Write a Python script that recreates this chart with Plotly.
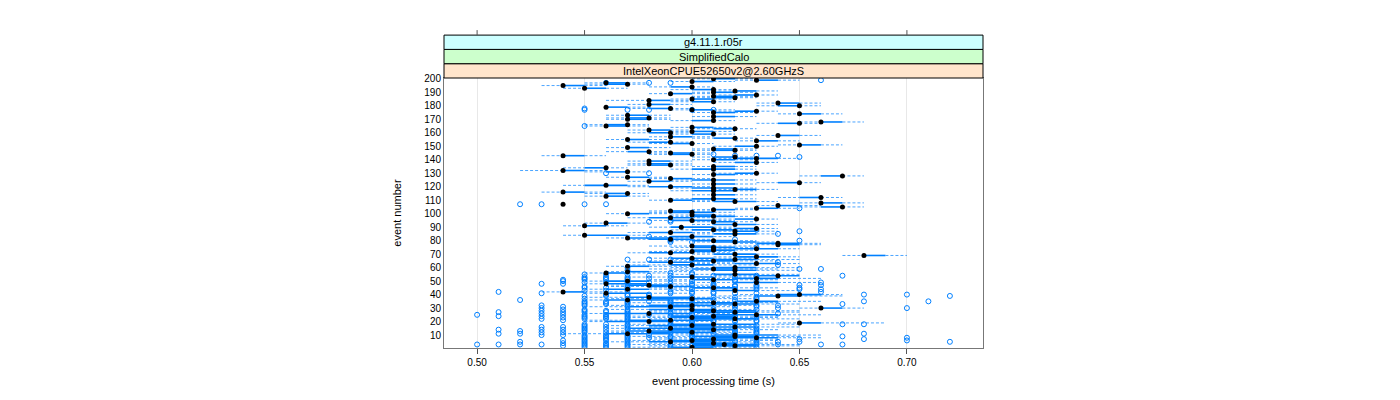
import plotly.graph_objects as go

events = list(range(1, 201))

med = [0.60, 0.62, 0.615, 0.61, 0.59, 0.60, 0.61, 0.63, 0.62, 0.62,
       0.57, 0.60, 0.58, 0.61, 0.59, 0.62, 0.60, 0.61, 0.65, 0.58,
       0.59, 0.62, 0.60, 0.61, 0.63, 0.58, 0.62, 0.61, 0.60, 0.66,
       0.59, 0.60, 0.62, 0.61, 0.63, 0.57, 0.60, 0.58, 0.64, 0.65,
       0.56, 0.54, 0.62, 0.57, 0.61, 0.59, 0.58, 0.56, 0.63, 0.57,
       0.61, 0.63, 0.60, 0.64, 0.62, 0.56, 0.57, 0.62, 0.61, 0.62,
       0.57, 0.60, 0.63, 0.59, 0.61, 0.62, 0.60, 0.63, 0.68, 0.62,
       0.59, 0.60, 0.61, 0.63, 0.61, 0.60, 0.64, 0.64, 0.62, 0.61,
       0.59, 0.57, 0.60, 0.55, 0.62, 0.59, 0.62, 0.61, 0.63, 0.595,
       0.55, 0.62, 0.56, 0.61, 0.60, 0.63, 0.59, 0.61, 0.60, 0.57,
       0.60, 0.59, 0.61, 0.63, 0.67, 0.64, 0.54, 0.66, 0.62, 0.59,
       0.61, 0.66, 0.56, 0.61, 0.57, 0.54, 0.61, 0.62, 0.61, 0.59,
       0.56, 0.61, 0.65, 0.58, 0.61, 0.59, 0.57, 0.67, 0.61, 0.63,
       0.57, 0.54, 0.61, 0.56, 0.61, 0.59, 0.58, 0.63, 0.58, 0.61,
       0.63, 0.62, 0.54, 0.60, 0.59, 0.58, 0.62, 0.61, 0.57, 0.63,
       0.65, 0.60, 0.59, 0.63, 0.57, 0.62, 0.59, 0.64, 0.61, 0.59,
       0.60, 0.58, 0.62, 0.60, 0.56, 0.57, 0.65, 0.66, 0.61, 0.57,
       0.58, 0.61, 0.57, 0.65, 0.61, 0.63, 0.60, 0.59, 0.56, 0.65,
       0.58, 0.64, 0.61, 0.58, 0.60, 0.62, 0.61, 0.63, 0.59, 0.61,
       0.62, 0.61, 0.55, 0.60, 0.54, 0.57, 0.56, 0.60, 0.63, 0.61]

q1 = [0.59, 0.60, 0.60, 0.60, 0.58, 0.59, 0.60, 0.61, 0.60, 0.61,
      0.56, 0.58, 0.57, 0.59, 0.57, 0.60, 0.58, 0.59, 0.65, 0.56,
      0.57, 0.60, 0.59, 0.59, 0.61, 0.56, 0.60, 0.60, 0.58, 0.66,
      0.57, 0.58, 0.61, 0.59, 0.62, 0.56, 0.58, 0.57, 0.63, 0.64,
      0.56, 0.54, 0.61, 0.56, 0.60, 0.58, 0.57, 0.56, 0.62, 0.56,
      0.60, 0.62, 0.59, 0.63, 0.61, 0.56, 0.57, 0.61, 0.60, 0.61,
      0.57, 0.59, 0.62, 0.58, 0.60, 0.61, 0.59, 0.62, 0.68, 0.61,
      0.58, 0.60, 0.60, 0.62, 0.60, 0.60, 0.64, 0.63, 0.61, 0.60,
      0.58, 0.57, 0.59, 0.55, 0.61, 0.58, 0.62, 0.60, 0.62, 0.59,
      0.55, 0.61, 0.56, 0.61, 0.59, 0.62, 0.58, 0.60, 0.60, 0.57,
      0.59, 0.59, 0.61, 0.63, 0.66, 0.64, 0.54, 0.66, 0.61, 0.59,
      0.60, 0.65, 0.56, 0.61, 0.56, 0.54, 0.60, 0.62, 0.60, 0.58,
      0.55, 0.61, 0.64, 0.58, 0.60, 0.59, 0.57, 0.66, 0.61, 0.62,
      0.56, 0.54, 0.60, 0.55, 0.61, 0.58, 0.58, 0.62, 0.58, 0.61,
      0.62, 0.61, 0.54, 0.59, 0.59, 0.57, 0.61, 0.61, 0.57, 0.62,
      0.65, 0.59, 0.58, 0.63, 0.57, 0.61, 0.59, 0.64, 0.60, 0.58,
      0.60, 0.58, 0.61, 0.60, 0.56, 0.56, 0.64, 0.66, 0.60, 0.57,
      0.57, 0.61, 0.57, 0.65, 0.61, 0.62, 0.60, 0.58, 0.56, 0.64,
      0.58, 0.64, 0.60, 0.58, 0.60, 0.61, 0.61, 0.62, 0.59, 0.61,
      0.62, 0.60, 0.55, 0.59, 0.54, 0.56, 0.56, 0.60, 0.63, 0.61]

q3 = [0.61, 0.63, 0.63, 0.62, 0.61, 0.62, 0.62, 0.64, 0.63, 0.64,
      0.59, 0.61, 0.60, 0.62, 0.61, 0.63, 0.61, 0.63, 0.66, 0.59,
      0.61, 0.63, 0.62, 0.62, 0.64, 0.60, 0.63, 0.63, 0.61, 0.67,
      0.60, 0.61, 0.63, 0.62, 0.64, 0.59, 0.61, 0.60, 0.65, 0.66,
      0.58, 0.55, 0.63, 0.58, 0.62, 0.60, 0.59, 0.58, 0.64, 0.58,
      0.62, 0.64, 0.61, 0.65, 0.63, 0.57, 0.58, 0.63, 0.62, 0.63,
      0.58, 0.61, 0.64, 0.60, 0.62, 0.63, 0.61, 0.64, 0.69, 0.63,
      0.60, 0.61, 0.62, 0.64, 0.62, 0.61, 0.65, 0.65, 0.63, 0.62,
      0.60, 0.59, 0.61, 0.57, 0.63, 0.60, 0.63, 0.62, 0.63, 0.61,
      0.56, 0.63, 0.57, 0.62, 0.61, 0.63, 0.60, 0.62, 0.61, 0.58,
      0.61, 0.60, 0.62, 0.64, 0.67, 0.65, 0.54, 0.67, 0.63, 0.60,
      0.62, 0.66, 0.57, 0.62, 0.57, 0.55, 0.62, 0.63, 0.62, 0.60,
      0.57, 0.62, 0.65, 0.59, 0.62, 0.60, 0.58, 0.67, 0.62, 0.63,
      0.57, 0.55, 0.62, 0.56, 0.62, 0.59, 0.59, 0.63, 0.59, 0.62,
      0.64, 0.62, 0.55, 0.60, 0.60, 0.58, 0.62, 0.62, 0.58, 0.63,
      0.66, 0.60, 0.59, 0.64, 0.58, 0.62, 0.60, 0.65, 0.61, 0.59,
      0.61, 0.59, 0.62, 0.61, 0.57, 0.57, 0.65, 0.67, 0.61, 0.58,
      0.58, 0.62, 0.58, 0.66, 0.62, 0.63, 0.61, 0.59, 0.57, 0.65,
      0.59, 0.65, 0.61, 0.59, 0.61, 0.62, 0.62, 0.63, 0.60, 0.62,
      0.63, 0.61, 0.56, 0.60, 0.55, 0.57, 0.57, 0.61, 0.64, 0.62]

lo = [0.57, 0.58, 0.57, 0.58, 0.56, 0.57, 0.58, 0.58, 0.57, 0.59,
      0.54, 0.56, 0.56, 0.57, 0.56, 0.58, 0.56, 0.57, 0.64, 0.55,
      0.55, 0.58, 0.57, 0.57, 0.59, 0.55, 0.58, 0.58, 0.56, 0.65,
      0.55, 0.56, 0.59, 0.57, 0.60, 0.55, 0.56, 0.55, 0.61, 0.62,
      0.55, 0.53, 0.59, 0.55, 0.58, 0.56, 0.56, 0.55, 0.60, 0.55,
      0.58, 0.60, 0.57, 0.61, 0.59, 0.55, 0.56, 0.59, 0.58, 0.59,
      0.56, 0.57, 0.60, 0.57, 0.58, 0.59, 0.58, 0.61, 0.67, 0.60,
      0.57, 0.58, 0.59, 0.61, 0.59, 0.58, 0.63, 0.62, 0.60, 0.59,
      0.57, 0.56, 0.58, 0.54, 0.60, 0.57, 0.61, 0.59, 0.61, 0.58,
      0.54, 0.60, 0.55, 0.60, 0.58, 0.61, 0.57, 0.59, 0.59, 0.56,
      0.58, 0.58, 0.60, 0.62, 0.65, 0.63, 0.54, 0.65, 0.60, 0.58,
      0.59, 0.64, 0.55, 0.60, 0.55, 0.53, 0.59, 0.61, 0.59, 0.57,
      0.54, 0.60, 0.63, 0.57, 0.59, 0.58, 0.56, 0.65, 0.60, 0.61,
      0.55, 0.52, 0.59, 0.54, 0.60, 0.57, 0.57, 0.61, 0.57, 0.60,
      0.61, 0.60, 0.53, 0.58, 0.58, 0.56, 0.60, 0.60, 0.56, 0.61,
      0.64, 0.58, 0.57, 0.62, 0.56, 0.60, 0.58, 0.63, 0.59, 0.57,
      0.59, 0.57, 0.60, 0.59, 0.55, 0.55, 0.63, 0.65, 0.59, 0.56,
      0.56, 0.60, 0.56, 0.64, 0.60, 0.61, 0.59, 0.57, 0.56, 0.63,
      0.57, 0.63, 0.59, 0.56, 0.59, 0.60, 0.60, 0.61, 0.58, 0.60,
      0.61, 0.59, 0.54, 0.58, 0.53, 0.55, 0.55, 0.59, 0.62, 0.60]

hi = [0.63, 0.65, 0.65, 0.64, 0.63, 0.64, 0.64, 0.66, 0.65, 0.66,
      0.62, 0.63, 0.62, 0.64, 0.63, 0.65, 0.63, 0.65, 0.69, 0.61,
      0.63, 0.65, 0.64, 0.64, 0.66, 0.62, 0.65, 0.65, 0.63, 0.68,
      0.62, 0.63, 0.65, 0.64, 0.66, 0.61, 0.63, 0.62, 0.67, 0.67,
      0.60, 0.57, 0.65, 0.60, 0.64, 0.62, 0.61, 0.60, 0.66, 0.60,
      0.64, 0.66, 0.63, 0.65, 0.65, 0.59, 0.60, 0.65, 0.64, 0.65,
      0.60, 0.63, 0.65, 0.62, 0.64, 0.65, 0.63, 0.65, 0.70, 0.64,
      0.62, 0.62, 0.63, 0.65, 0.63, 0.63, 0.66, 0.66, 0.64, 0.63,
      0.61, 0.60, 0.62, 0.58, 0.64, 0.61, 0.64, 0.63, 0.64, 0.62,
      0.57, 0.64, 0.58, 0.63, 0.62, 0.64, 0.61, 0.63, 0.62, 0.59,
      0.62, 0.61, 0.63, 0.65, 0.68, 0.66, 0.54, 0.68, 0.64, 0.61,
      0.63, 0.67, 0.58, 0.63, 0.58, 0.56, 0.63, 0.64, 0.63, 0.61,
      0.58, 0.63, 0.66, 0.60, 0.63, 0.61, 0.59, 0.68, 0.63, 0.64,
      0.58, 0.56, 0.63, 0.57, 0.63, 0.60, 0.60, 0.64, 0.60, 0.63,
      0.65, 0.63, 0.56, 0.61, 0.61, 0.59, 0.63, 0.63, 0.59, 0.64,
      0.67, 0.61, 0.60, 0.65, 0.59, 0.63, 0.61, 0.66, 0.62, 0.60,
      0.62, 0.60, 0.63, 0.62, 0.58, 0.58, 0.66, 0.68, 0.62, 0.59,
      0.59, 0.63, 0.59, 0.67, 0.63, 0.64, 0.62, 0.60, 0.58, 0.66,
      0.60, 0.66, 0.62, 0.60, 0.62, 0.63, 0.63, 0.64, 0.61, 0.63,
      0.64, 0.62, 0.57, 0.61, 0.56, 0.58, 0.58, 0.62, 0.65, 0.63]

# outliers: (event number, processing time)
outliers = [
    (25, 0.50), (3, 0.50),
    (42, 0.51), (27, 0.51), (24, 0.51), (14, 0.51), (11, 0.51), (3, 0.51),
    (107, 0.52), (36, 0.52), (13, 0.52), (11, 0.52), (5, 0.52), (3, 0.52),
    (107, 0.53), (48, 0.53), (41, 0.53), (32, 0.53), (30, 0.53), (28, 0.53), (26, 0.53),
    (24, 0.53), (22, 0.53), (16, 0.53), (14, 0.53), (12, 0.53), (10, 0.53), (3, 0.53),
    (51, 0.54), (50, 0.54), (48, 0.54), (31, 0.54), (29, 0.54), (27, 0.54), (25, 0.54),
    (23, 0.54), (21, 0.54), (16, 0.54), (14, 0.54), (12, 0.54), (10, 0.54), (6, 0.54),
    (4, 0.54), (2, 0.54),
    (178, 0.55), (177, 0.55), (165, 0.55), (107, 0.55), (1, 0.55), (2, 0.55), (3, 0.55),
    (4, 0.55), (5, 0.55), (6, 0.55), (7, 0.55), (8, 0.55), (9, 0.55), (10, 0.55), (12, 0.55),
    (13, 0.55), (14, 0.55), (15, 0.55), (16, 0.55), (17, 0.55), (18, 0.55), (22, 0.55),
    (23, 0.55), (24, 0.55), (25, 0.55), (27, 0.55), (28, 0.55), (29, 0.55), (32, 0.55),
    (33, 0.55), (34, 0.55), (35, 0.55), (37, 0.55), (39, 0.55), (43, 0.55), (45, 0.55),
    (46, 0.55), (49, 0.55), (51, 0.55), (52, 0.55), (53, 0.55), (55, 0.55),
    (1, 0.56), (2, 0.56), (3, 0.56), (4, 0.56), (6, 0.56), (7, 0.56), (8, 0.56), (9, 0.56),
    (10, 0.56), (12, 0.56), (14, 0.56), (16, 0.56), (18, 0.56), (22, 0.56), (23, 0.56),
    (24, 0.56), (25, 0.56), (27, 0.56), (28, 0.56), (33, 0.56), (34, 0.56), (35, 0.56),
    (39, 0.56), (40, 0.56), (43, 0.56), (45, 0.56), (49, 0.56), (51, 0.56), (52, 0.56),
    (53, 0.56), (55, 0.56), (107, 0.56), (130, 0.56), (197, 0.56),
    (2, 0.57), (4, 0.57), (7, 0.57), (8, 0.57), (10, 0.57), (16, 0.57), (22, 0.57),
    (25, 0.57), (27, 0.57), (28, 0.57), (33, 0.57), (35, 0.57), (39, 0.57), (40, 0.57),
    (43, 0.57), (49, 0.57), (52, 0.57), (55, 0.57), (58, 0.57), (60, 0.57), (66, 0.57),
    (177, 0.57),
    (8, 0.58), (10, 0.58), (25, 0.58), (35, 0.58), (39, 0.58), (40, 0.58), (49, 0.58),
    (52, 0.58), (54, 0.58), (66, 0.58), (83, 0.58), (94, 0.58), (130, 0.58), (177, 0.58),
    (197, 0.58),
    (35, 0.59), (54, 0.59), (56, 0.59), (66, 0.59), (79, 0.59), (80, 0.59), (81, 0.59),
    (94, 0.59), (95, 0.59), (197, 0.59),
    (56, 0.60), (66, 0.60), (79, 0.60), (177, 0.60),
    (75, 0.61), (144, 0.61), (177, 0.61),
    (81, 0.62), (143, 0.62),
    (75, 0.63), (88, 0.63), (143, 0.63),
    (3, 0.64), (5, 0.64), (26, 0.64), (30, 0.64), (32, 0.64), (62, 0.64), (64, 0.64),
    (85, 0.64), (143, 0.64),
    (5, 0.65), (7, 0.65), (44, 0.65), (45, 0.65), (47, 0.65), (59, 0.65), (80, 0.65),
    (87, 0.65), (104, 0.65), (142, 0.65),
    (3, 0.66), (42, 0.66), (44, 0.66), (47, 0.66), (49, 0.66), (59, 0.66), (199, 0.66),
    (3, 0.67), (9, 0.67), (18, 0.67), (33, 0.67), (54, 0.67),
    (7, 0.68), (11, 0.68), (18, 0.68), (35, 0.68), (40, 0.68),
    (6, 0.70), (8, 0.70), (30, 0.70), (40, 0.70),
    (35, 0.71),
    (5, 0.72), (39, 0.72),
]

# extra single-value outlier columns seen among the low event numbers
out_057_events = [1, 3, 5, 6, 9, 12, 14, 15, 17, 18, 20, 21, 23, 24, 26, 29, 31, 32, 34, 37, 45, 46, 47, 51, 53]
out_059_events = [1, 2, 3, 7, 8, 9, 12, 14, 17, 18, 20, 24, 26, 27, 29, 30, 33, 34, 36, 41, 42, 44, 48, 50, 52]
out_060_events = [2, 8, 9, 10, 11, 13, 15, 19, 20, 21, 25, 26, 31, 33, 36, 38, 41, 42, 44, 47, 48, 50, 55]
out_061_events = [1, 3, 5, 11, 13, 15, 20, 21, 26, 29, 31, 36, 38, 41, 42, 44, 46, 47, 48, 50, 54]
out_062_events = [1, 5, 6, 11, 12, 13, 15, 17, 20, 21, 24, 26, 29, 31, 32, 36, 38, 41, 44, 46, 47, 50, 51, 53]
out_063_events = [1, 3, 4, 5, 6, 7, 11, 12, 13, 14, 15, 17, 20, 21, 23, 24, 29, 31, 32, 34, 36, 37, 38,
                  41, 44, 45, 46, 47, 50, 53, 54]
extra_cols = [(0.57, out_057_events), (0.59, out_059_events), (0.60, out_060_events),
              (0.61, out_061_events), (0.62, out_062_events), (0.63, out_063_events)]

x_ticks = [0.50, 0.55, 0.60, 0.65, 0.70]
y_ticks = list(range(10, 201, 10))
strip_labels = ["IntelXeonCPUE52650v2@2.60GHzS", "SimplifiedCalo", "g4.11.1.r05r"]
strip_colors = ["#FFE5CC", "#CCFFCC", "#CCFFFF"]

BLUE = "#0080ff"

all_out = list(outliers)
for val, evs in extra_cols:
    all_out += [(e, val) for e in evs]

# whisker and box segments
wx, wy = [], []
bx, by = [], []
for e, a, b, c, d in zip(events, lo, q1, q3, hi):
    wx += [a, b, None, c, d, None]
    wy += [e, e, None, e, e, None]
    bx += [b, c, None]
    by += [e, e, None]

fig = go.Figure()
fig.add_trace(go.Scatter(x=wx, y=wy, mode="lines",
                         line=dict(color=BLUE, width=1, dash="3px,2px"),
                         opacity=0.7, hoverinfo="skip", showlegend=False))
fig.add_trace(go.Scatter(x=bx, y=by, mode="lines",
                         line=dict(color=BLUE, width=1.6),
                         hoverinfo="skip", showlegend=False))
fig.add_trace(go.Scatter(x=[o[1] for o in all_out], y=[o[0] for o in all_out],
                         mode="markers",
                         marker=dict(symbol="circle-open", size=5, color=BLUE,
                                     line=dict(width=1, color=BLUE)),
                         showlegend=False))
fig.add_trace(go.Scatter(x=med, y=events, mode="markers",
                         marker=dict(symbol="circle", size=5, color="black"),
                         showlegend=False))

plot_h = 270.0
strip_h = 14.3 / plot_h
for i, (lab, col) in enumerate(zip(strip_labels, strip_colors)):
    y0 = 1 + i * strip_h
    y1 = y0 + strip_h
    fig.add_shape(type="rect", xref="paper", yref="paper", x0=0, x1=1, y0=y0, y1=y1,
                  fillcolor=col, line=dict(color="black", width=1), layer="above")
    fig.add_annotation(xref="paper", yref="paper", x=0.5, y=(y0 + y1) / 2, text=lab,
                       showarrow=False, font=dict(family="Liberation Sans", size=11, color="black"),
                       yanchor="middle")
top = 1 + 3 * strip_h
for t in x_ticks:
    fig.add_shape(type="line", xref="x", yref="paper", x0=t, x1=t, y0=top, y1=top + 5 / plot_h,
                  line=dict(color="#555555", width=1))

# page body has an 8px margin: figure 1392x392 fills the 1400x400 window
fig.update_layout(
    width=1392, height=392,
    margin=dict(l=436, r=417, t=70, b=52),
    paper_bgcolor="white", plot_bgcolor="white",
    font=dict(family="Liberation Sans", size=10, color="black"),
    showlegend=False,
)
fig.update_xaxes(range=[0.4846, 0.7354], tickvals=x_ticks,
                 ticktext=["%.2f" % t for t in x_ticks],
                 showgrid=True, gridcolor="#e8e8e8", gridwidth=1,
                 showline=True, linecolor="#777777", linewidth=1, mirror=True,
                 ticks="outside", ticklen=5, tickcolor="#555555",
                 zeroline=False,
                 title=dict(text="event processing time (s)", font=dict(size=11), standoff=10))
fig.update_yaxes(range=[0.4, 200.6], tickvals=y_ticks, ticktext=[str(v) for v in y_ticks],
                 showgrid=False, showline=True, linecolor="#777777", linewidth=1, mirror=True,
                 ticks="", zeroline=False,
                 title=dict(text="event number", font=dict(size=11), standoff=20))

fig.write_html("out.html")
